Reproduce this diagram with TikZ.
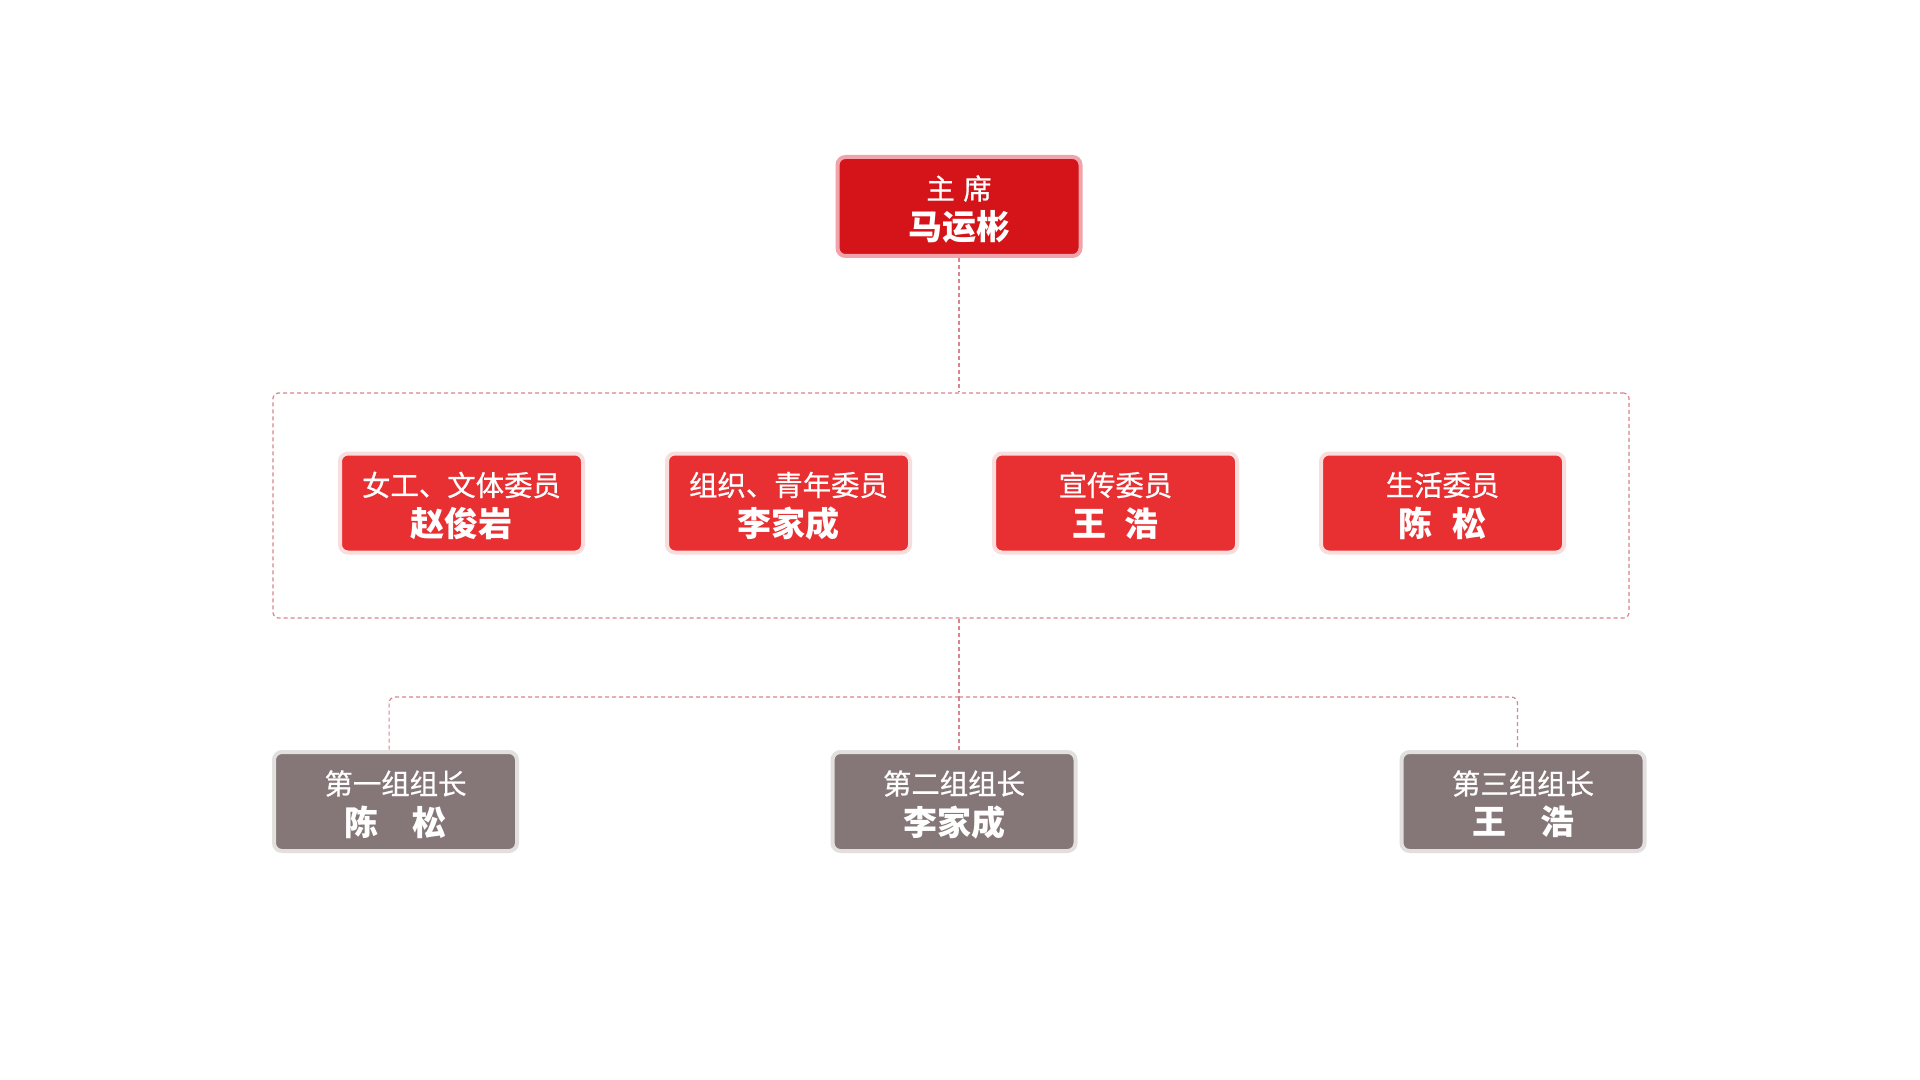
\documentclass[tikz,border=0pt]{standalone}
\usepackage{fontspec}
\setmainfont{Noto Sans CJK SC}
\newfontfamily\cjkmed{Noto Sans CJK SC}[FakeBold=0.7]
\usetikzlibrary{calc}
\definecolor{topred}{HTML}{D41418}
\definecolor{toppink}{HTML}{F0A3AA}
\definecolor{midred}{HTML}{E83033}
\definecolor{midpink}{HTML}{F9DCDC}
\definecolor{grpgray}{HTML}{857677}
\definecolor{grpedge}{HTML}{E2DFDF}
\definecolor{connc}{HTML}{D9848F}
\tikzset{
  basebox/.style={rounded corners=4pt, line width=2pt, minimum width=121.5pt, minimum height=49.5pt, inner sep=0pt},
  topbox/.style={basebox, fill=topred, draw=toppink},
  midbox/.style={basebox, fill=midred, draw=midpink},
  grpbox/.style={basebox, fill=grpgray, draw=grpedge},
  linea/.style={text=white, font=\cjkmed\fontsize{14.2}{16}\selectfont, inner sep=0pt},
  lineb/.style={text=white, font=\fontsize{17}{19}\selectfont\bfseries, inner sep=0pt},
  conn/.style={draw=connc, line width=0.6pt, dash pattern=on 2pt off 1.5pt},
  frame/.style={draw=connc, line width=0.6pt, dash pattern=on 2pt off 1.5pt, rounded corners=2.5pt, minimum width=678pt, minimum height=112.5pt, inner sep=0pt}
}
\newcommand{\orgbox}[6]{%
  \node[#2] (#1) at (#3,#4) {};
  \node[linea] (#1-a) at ([yshift=9pt]#1.center) {#5};
  \node[lineb] (#1-b) at ([yshift=-10.3pt]#1.center) {#6};
}
\begin{document}
\begin{tikzpicture}[x=0.5pt,y=-0.5pt]
\useasboundingbox[fill=white] (0,0) rectangle (1920,1080);
\node[frame] (box) at (951,505.5) {};
\coordinate (hub) at (959,697);
% nodes
\orgbox{top}{topbox}{959}{206.5}{主\hspace{0.3em}席}{马运彬}
\orgbox{m1}{midbox}{461.5}{503}{女工、文体委员}{赵俊岩}
\orgbox{m2}{midbox}{788.5}{503}{组织、青年委员}{李家成}
\orgbox{m3}{midbox}{1115.5}{503}{宣传委员}{王\hspace{0.55em}浩}
\orgbox{m4}{midbox}{1442.5}{503}{生活委员}{陈\hspace{0.6em}松}
\orgbox{g1}{grpbox}{395.5}{801.5}{第一组组长}{陈\hspace{1em}松}
\orgbox{g2}{grpbox}{954}{801.5}{第二组组长}{李家成}
\orgbox{g3}{grpbox}{1523}{801.5}{第三组组长}{王\hspace{1em}浩}
% connectors
\draw[conn] (top.south) -- (top.south |- box.north);
\draw[conn] (box.south -| hub) -- (hub);
\draw[conn] (hub) -- (hub |- g2.north);
\draw[conn, rounded corners=3pt] (hub) -| ([xshift=-3.2pt]g1.north);
\draw[conn, rounded corners=3pt] (hub) -| ([xshift=-2.8pt]g3.north);
\end{tikzpicture}
\end{document}
